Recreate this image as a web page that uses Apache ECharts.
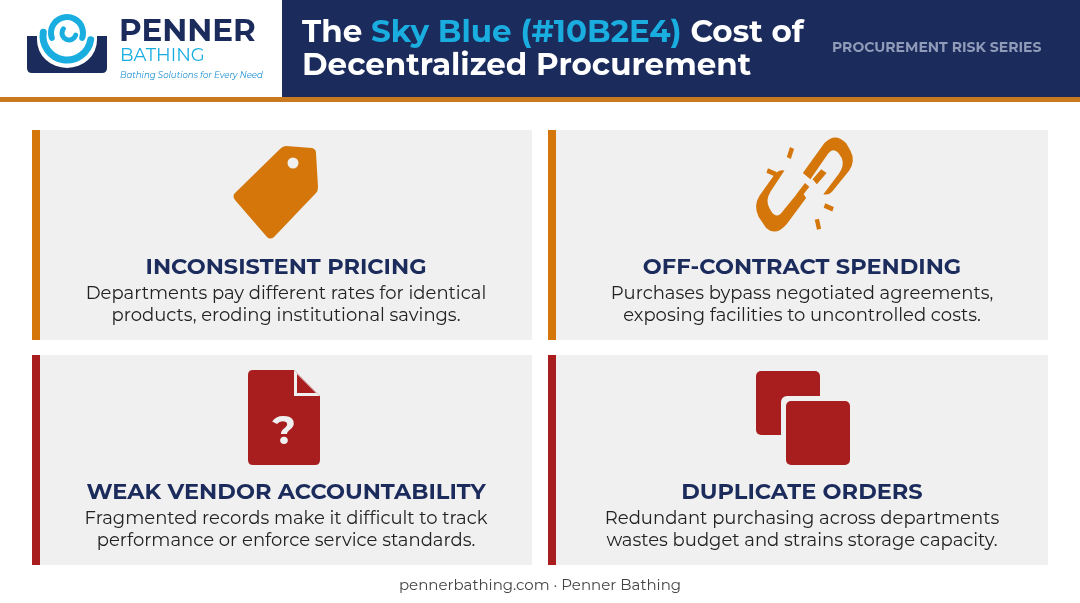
<!DOCTYPE html>
<html><head><meta charset="utf-8">
<script src="https://cdn.jsdelivr.net/npm/echarts@6/dist/echarts.min.js"></script>
<style>html,body{margin:0;padding:0;background:#fff}#c{width:1080px;height:603px}</style>
</head><body><div id="c"></div>
<script>
const titles = ["INCONSISTENT PRICING","OFF-CONTRACT SPENDING","WEAK VENDOR ACCOUNTABILITY","DUPLICATE ORDERS"];
const descLine1 = ["Departments pay different rates for identical","Purchases bypass negotiated agreements,","Fragmented records make it difficult to track","Redundant purchasing across departments"];
const descLine2 = ["products, eroding institutional savings.","exposing facilities to uncontrolled costs.","performance or enforce service standards.","wastes budget and strains storage capacity."];
const accent = ["#D4760A","#D4760A","#A81E1E","#A81E1E"];
const headerTitle = ["The ", "Sky Blue (#10B2E4)", " Cost of", "Decentralized Procurement"];
const seriesLabel = "PROCUREMENT RISK SERIES";
const footer = "pennerbathing.com · Penner Bathing";

const F = "Montserrat, 'Open Sans', Lato, sans-serif";
const paths = {
  tub:'M27,36 L37,36 L37,40 A30,28 0 0 0 97,40 L97,36 L107,36 L107,68 Q107,73 102,73 L32,73 Q27,73 27,68 Z',
  tag:'M286,146 L312,148 Q316,149 316,153 L318,187 Q318,191 316,193 L274,237 Q270,240 267,237 L235,200 Q232,196 235,193 L280,149 Q283,146 286,146 Z',
  chain:'M803,175 L823,151 Q833,142 843,151 L847,157 Q852,165 846,173 L830,190 Q827,193 822,192 L836,176 Q842,169 839,163 L836,159 Q831,154 826,160 L810,180 Z M812,180 L820,172 L825,175 L816,184 Z M806,195 L788,216 Q778,226 769,219 L762,210 Q757,201 763,193 L777,176 Q781,172 786,173 L773,190 Q768,197 772,203 L774,206 Q779,212 784,206 L801,188 Z M797,192 L805,183 L809,186 L801,195 Z',
  doc:'M253,370 L294,370 L320,396 L320,460 Q320,465 315,465 L253,465 Q248,465 248,460 L248,375 Q248,370 253,370 Z',
  gap:'M294,370 L320,396 L294,396 Z',
  fold:'M297,374 L316,393 L297,393 Z'
};
Object.keys(paths).forEach(k=>echarts.graphic.registerShape('ic_'+k, echarts.graphic.extendPath(paths[k],{})));
const chart = echarts.init(document.getElementById('c'));
const g = [];
const P=(k,fill,extra)=>g.push(Object.assign({type:'ic_'+k,shape:{},style:{fill:fill}},extra||{}));
g.push({type:'rect',shape:{x:0,y:0,width:1080,height:603},style:{fill:'#fff'}});
g.push({type:'rect',shape:{x:282,y:0,width:798,height:97},style:{fill:'#1B2B5C'}});
g.push({type:'rect',shape:{x:0,y:97,width:1080,height:5},style:{fill:'#C97A1E'}});
P('tub','#1B2B5C');
g.push({type:'arc',shape:{cx:67,cy:36,r:24,startAngle:Math.PI*0.05,endAngle:Math.PI*1.05,clockwise:true},style:{stroke:'#1AAEE0',fill:null,lineWidth:7,lineCap:'round'}});
g.push({type:'arc',shape:{cx:67,cy:33,r:16,startAngle:Math.PI*0.9,endAngle:Math.PI*2.1,clockwise:true},style:{stroke:'#1AAEE0',fill:null,lineWidth:6,lineCap:'round'}});
g.push({type:'arc',shape:{cx:69,cy:33,r:7,startAngle:Math.PI*0.1,endAngle:Math.PI*1.2,clockwise:true},style:{stroke:'#1AAEE0',fill:null,lineWidth:5,lineCap:'round'}});
g.push({type:'text',style:{x:119,y:32,text:'PENNER',font:'bold 31px '+F,fill:'#1B2B5C',verticalAlign:'middle'}});
g.push({type:'text',style:{x:120,y:56,text:'BATHING',font:'18px '+F,fill:'#1AAEE0',verticalAlign:'middle'}});
g.push({type:'text',style:{x:120,y:75,text:'Bathing Solutions for Every Need',font:'italic 8.6px '+F,fill:'#1A8ED0',verticalAlign:'middle'}});
g.push({type:'text',style:{x:302,y:33,verticalAlign:'middle',rich:{w:{font:'bold 31px '+F,fill:'#fff'},b:{font:'bold 31px '+F,fill:'#1AAEE0'}},text:'{w|'+headerTitle[0]+'}{b|'+headerTitle[1]+'}{w|'+headerTitle[2]+'}'}});
g.push({type:'text',style:{x:302,y:66,text:headerTitle[3],font:'bold 31px '+F,fill:'#fff',verticalAlign:'middle'}});
g.push({type:'text',style:{x:832,y:48,text:seriesLabel,font:'bold 14px '+F,fill:'#8F9BB8',verticalAlign:'middle'}});
const cx=[32,548], cy=[130,355];
for(let i=0;i<4;i++){
  const x=cx[i%2], y=cy[Math.floor(i/2)], mid=x+250;
  g.push({type:'rect',shape:{x:x,y:y,width:500,height:210},style:{fill:'#F0F0F0'}});
  g.push({type:'rect',shape:{x:x,y:y,width:8,height:210},style:{fill:accent[i]}});
  g.push({type:'text',style:{x:mid+4,y:y+137,text:titles[i],font:'bold 22.5px '+F,fill:'#1B2B5C',align:'center',verticalAlign:'middle'}});
  g.push({type:'text',style:{x:mid+4,y:y+164,text:descLine1[i],font:'18px '+F,fill:'#222',align:'center',verticalAlign:'middle'}});
  g.push({type:'text',style:{x:mid+4,y:y+186,text:descLine2[i],font:'18px '+F,fill:'#222',align:'center',verticalAlign:'middle'}});
}
P('tag','#D4760A');
g.push({type:'circle',shape:{cx:293,cy:163,r:5.5},style:{fill:'#F0F0F0'}});
g.push({type:'group',originX:805,originY:183,scaleX:1.08,scaleY:1.25,children:[
  {type:'ic_chain',shape:{},style:{fill:'#D4760A'}}
].concat([[790,163,793,155],[778,176,770,173],[823,201,831,204],[816,212,818,220]].map(s=>({type:'line',shape:{x1:s[0],y1:s[1],x2:s[2],y2:s[3]},style:{stroke:'#D4760A',lineWidth:4}})))});
P('doc','#A81E1E');
P('gap','#F0F0F0');
P('fold','#A81E1E');
g.push({type:'text',style:{x:284,y:432,text:'?',font:'bold 40px '+F,fill:'#F0F0F0',align:'center',verticalAlign:'middle'}});
g.push({type:'rect',shape:{x:756,y:371,width:64,height:64,r:5},style:{fill:'#A81E1E'}});
g.push({type:'rect',shape:{x:781,y:396,width:72,height:72,r:6},style:{fill:'#F0F0F0'}});
g.push({type:'rect',shape:{x:786,y:401,width:64,height:64,r:5},style:{fill:'#A81E1E'}});
g.push({type:'text',style:{x:540,y:586,text:footer,font:'15px '+F,fill:'#444',align:'center',verticalAlign:'middle'}});
chart.setOption({animation:false,graphic:{elements:g}});
</script></body></html>
